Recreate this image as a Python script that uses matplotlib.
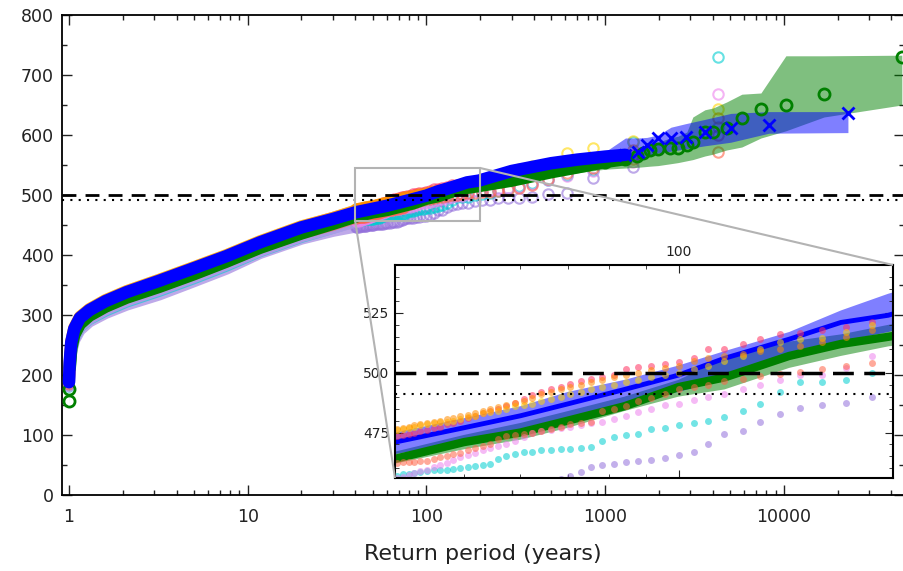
import numpy as np
import matplotlib
matplotlib.use('Agg')
import matplotlib.pyplot as plt
from matplotlib.ticker import MultipleLocator, NullFormatter, FixedLocator
from mpl_toolkits.axes_grid1.inset_locator import mark_inset

# ---------------- data ----------------
# large-sample estimate (blue crosses) with its uncertainty band
blue_T = [1.0, 1.01, 1.03, 1.07, 1.15, 1.3, 1.6, 2.1, 3.2, 5, 7.6, 11.7, 20, 30, 40,
          50, 60, 70, 84, 100, 116, 143, 169, 197, 300, 500, 700, 1000, 1300, 1528,
          1716, 1977, 2339, 2836, 3620, 5063, 8260, 22870]
blue_v = [188, 222, 255, 277, 295, 308, 323, 338, 357, 378, 398, 421, 446, 460, 471,
          477, 482, 487, 493, 499, 506, 514, 521, 524, 540, 553, 559, 564, 567, 571,
          583, 595, 595, 596, 605, 612, 617, 637]
blue_lo = [182, 216, 249, 271, 289, 302, 317, 332, 351, 372, 392, 415, 440, 454, 466,
           471, 476, 481, 487, 492, 497, 507, 513, 517, 532, 545, 551, 556, 558, 558,
           563, 570, 573, 577, 582, 588, 603, 604]
blue_hi = [195, 229, 262, 284, 302, 315, 330, 345, 364, 385, 405, 428, 453, 466, 475,
           481, 486, 492, 497, 503, 509, 517, 526, 533, 548, 561, 567, 572, 595, 595,
           596, 600, 613, 619, 626, 636, 639, 639]

# long simulation (green circles) with its band
green_T = [1.0, 1.003, 1.01, 1.03, 1.07, 1.15, 1.3, 1.6, 2.1, 3.2, 5, 7.6, 11.7, 20, 30,
           40, 50, 60, 70, 84, 100, 116, 143, 169, 197, 300, 500, 700, 1000, 1300,
           1500, 1640, 1783, 1977, 2313, 2562, 2870, 3100, 3620, 4020, 4790, 5830, 7450,
           10280, 16800, 45800]
green_v = [157, 176, 212, 245, 267, 285, 299, 314, 329, 347, 368, 389, 412, 436, 452,
           464, 471, 475, 480, 486, 494, 498, 507, 512, 515, 524, 538, 546, 555, 560,
           565, 570, 575, 577, 578, 578, 583, 588, 605, 605, 612, 628, 643,
           650, 668, 730]
green_lo = [152, 171, 207, 240, 262, 280, 294, 309, 324, 342, 363, 384, 407, 431, 447,
            462, 468, 472, 477, 484, 490, 493, 502, 507, 511, 518, 530, 537, 543, 545,
            546, 547, 548, 549, 552, 554, 557, 559, 565, 568, 575, 580, 595,
            607, 630, 650]
green_hi = [162, 181, 217, 250, 272, 290, 304, 319, 334, 352, 373, 394, 417, 441, 457,
            467, 474, 479, 484, 490, 497, 506, 513, 516, 520, 530, 545, 553, 565, 570,
            575, 582, 585, 588, 595, 598, 605, 630, 642, 645, 655, 668, 670,
            732, 732, 733]

# ensemble members: dense lower part (T_low) and the ranked upper part (T_rank)
T_low = [1.0, 1.01, 1.03, 1.07, 1.15, 1.3, 1.6, 2.1, 3.2, 5, 7.6, 11.7, 20, 30, 40]
T_rank = [4300, 1433, 860, 614, 478, 391, 331, 287, 253, 226, 205, 187, 172, 159, 148,
          139, 130, 123, 116, 110, 105, 100, 95.6, 91.5, 87.8, 84.3, 81.1, 78.2, 75.4,
          72.9, 70.5, 68.3, 66.2, 64.2, 62.3, 60.6, 58.9, 57.3, 55.8, 54.4, 53.1, 51.8,
          50.6, 49.4, 48.3, 47.3, 46.2, 45.3, 44.3, 43.4, 42.6, 41.8, 41.0, 40.2]

purple_low = [183, 210, 238, 258, 275, 289, 303, 317, 334, 356, 377, 403, 427, 440, 447]
purple_v = [613, 547, 528, 503, 502, 497, 495, 495, 495, 492, 491.5, 490, 487.5, 486.3,
            485.3, 482.8, 479.3, 475.6, 474.5, 470, 467, 465.5, 464.5, 463.5, 463, 462.5,
            462, 461.5, 460.5, 458.5, 457, 455.5, 455, 454.5, 454, 453.5, 453, 452.5, 452,
            451.5, 451, 451, 450.5, 450, 450, 449.5, 449, 449, 448.5, 448, 448, 447.5,
            447, 447]

cyan_low = [180, 208, 240, 262, 280, 293, 307, 322, 340, 361, 382, 406, 430, 445, 456]
cyan_v = [730, 588, 542, 533, 525, 520, 515, 510, 506, 504, 502.2, 500, 497, 496, 496,
          492, 487, 484, 481.5, 480, 479, 478, 477, 476.5, 474.5, 474, 473, 471.5, 469,
          468.6, 468.2, 468, 467.7, 467.5, 467, 466.8, 466, 465.4, 464, 462, 461.5,
          461.2, 460.7, 460.1, 459.8, 459.5, 459.4, 459.4, 458.8, 458.5, 458, 457.8,
          457.5, 457]

violet_low = [181, 209, 241, 263, 281, 294, 309, 324, 342, 363, 384, 407, 431, 445, 455.5]
violet_v = [668, 555, 540, 532, 525, 518, 514, 512, 510, 508, 507, 507, 502, 499, 499,
            497, 495, 493, 491, 490, 488.5, 487, 486.3, 485, 483.5, 482, 480.5, 479.5,
            478.8, 478, 477.2, 476.8, 476.2, 475.8, 474.6, 473, 471.5, 470.3, 469.2,
            468.4, 467.5, 466.3, 465.5, 464.7, 463.5, 462.2, 461.5, 460.5, 459.4, 458.8,
            458, 457.3, 456.6, 456]

salmon_low = [184, 214, 246, 268, 286, 299, 314, 329, 347, 368, 389, 412, 436, 450, 462]
salmon_v = [572, 560, 545, 537, 527, 517, 511, 508, 506, 505, 504.5, 504, 503, 501.5,
            500.5, 499.4, 498.5, 497.5, 496.5, 495, 494, 493.2, 491, 489.5, 488, 486,
            484.9, 484.2, 479.3, 478.9, 478.6, 477.5, 476.5, 475.8, 475, 474.4, 474,
            473.7, 472.4, 470.3, 469.5, 468.6, 467.8, 466.5, 466.1, 465.4, 464.7, 464,
            463.3, 463, 462.8, 462.6, 462.6, 462.4]

red_low = [189, 223, 256, 278, 296, 309, 324, 339, 358, 379, 399, 422, 447, 462, 473]
red_v = [600, 566, 556, 550, 545, 540, 535, 531, 528, 525, 523, 521, 519, 518, 516.5,
         516, 514, 512, 510, 509.9, 506, 504.3, 503.6, 502.9, 502.2, 501.5, 499, 498,
         497.5, 496.5, 495.3, 494, 493, 492, 490.5, 489, 487.5, 486, 485, 484, 483, 482,
         481, 480, 479, 478.5, 477.5, 477, 476, 475.5, 475, 474.5, 474, 473.5]

gold_low = [190, 224, 257, 279, 297, 310, 325, 340, 359, 380, 400, 423, 448, 462, 474]
gold_v = [643, 590, 578, 570, 552, 548, 543, 539, 533, 528, 524, 520, 517, 514.5, 514,
          513, 510, 507, 505, 503, 501.5, 500, 499, 498, 497, 496, 495, 494, 493, 492,
          491, 490, 489, 488, 487, 486.5, 486, 485, 484, 483.5, 483, 482, 481.5, 480.7,
          480, 479.5, 479.3, 479, 478.6, 478, 477.5, 477, 476.5, 476]

orange_low = [190, 224, 257, 279, 297, 310, 325, 340, 359, 380, 400, 423, 448, 462, 474]
orange_v = [628, 575, 562, 556, 549, 545, 541, 537, 532, 527, 522, 518, 515, 513, 511,
            510, 509, 508, 507, 506, 505, 503, 502, 501, 500, 499, 498, 497, 496, 495,
            494, 493, 492, 491, 489.5, 488.3, 487.5, 486.5, 485.5, 485, 484, 483, 482.5,
            482, 481, 480.5, 480, 479.5, 479, 478.5, 478, 477.5, 477, 476.5]

members = [(purple_low, purple_v, 'mediumpurple'),
           (cyan_low, cyan_v, 'darkturquoise'),
           (violet_low, violet_v, 'violet'),
           (salmon_low, salmon_v, 'tomato'),
           (red_low, red_v, '#ff3060'),
           (gold_low, gold_v, 'gold'),
           (orange_low, orange_v, 'darkorange')]

threshold = 500
threshold2 = 491
x_ticks = [1, 10, 100, 1000, 10000]
x_ticklabels = ['1', '10', '100', '1000', '10000']
zoom_x = (40, 200)
zoom_y = (456, 545)

# ---------------- figure ----------------
plt.rcParams['font.family'] = 'DejaVu Sans'
fig = plt.figure(figsize=(9.04, 5.71), dpi=100)
ax = fig.add_axes([62 / 904, 1 - 495 / 571, (903.5 - 62) / 904, 480 / 571])
ax.set_xscale('log')

bT, bv = np.array(blue_T), np.array(blue_v)
gT, gv = np.array(green_T), np.array(green_v)

# members: dense part as a solid band, upper tail as open circles
for low, vals, col in members:
    ax.plot(T_low, low, '-', color=col, lw=8.5, alpha=0.6, solid_capstyle='round', zorder=1)
    ax.plot(T_rank, vals, 'o', mfc='none', mec=col, mew=1.5, ms=7.5, alpha=0.6, zorder=1)

ax.fill_between(green_T, green_lo, green_hi, color='g', alpha=0.5, lw=0, zorder=2)
ax.fill_between(blue_T, blue_lo, blue_hi, color='b', alpha=0.5, lw=0, zorder=2)

# dense part drawn as a thick band, sparse tail as single markers
gd = (gT <= 1300) & (gT > 1.003)
gm = (gT >= 1000) | (gT <= 1.003)
ax.plot(gT[gd], gv[gd], '-', color='g', lw=9, solid_capstyle='round', zorder=3)
ax.plot(gT[gm], gv[gm], 'o', mfc='none', mec='g', mew=2, ms=8, zorder=3)
bd = bT <= 1300
bm = bT >= 1300
ax.plot(bT[bd], bv[bd], '-', color='b', lw=9, solid_capstyle='round', zorder=4)
ax.plot(bT[bm], bv[bm], 'x', color='b', mew=2, ms=8, zorder=4)

ax.axhline(threshold, color='k', ls=(0, (5, 3.3)), lw=2, zorder=6)
ax.axhline(threshold2, color='k', ls=(0, (1, 3)), lw=1.5, zorder=6)

ax.set_xlim(0.914, 46800)
ax.set_ylim(0, 800)
ax.set_xticks(x_ticks)
ax.set_xticklabels(x_ticklabels)
ax.xaxis.set_minor_formatter(NullFormatter())
ax.yaxis.set_major_locator(MultipleLocator(100))
ax.yaxis.set_minor_locator(MultipleLocator(50))
ax.tick_params(which='both', direction='in', top=True, right=True, width=1,
               labelsize=12.5, pad=6, colors='#222222')
ax.tick_params(axis='x', pad=9)
ax.tick_params(which='major', length=7)
ax.tick_params(which='minor', length=3.5)
for s in ax.spines.values():
    s.set_linewidth(1.3)
ax.set_xlabel('Return period (years)', fontsize=16, color='#222222', labelpad=13)

# ---------------- zoomed inset ----------------
axins = fig.add_axes([395 / 904, 1 - 478 / 571, 498 / 904, 213 / 571])
axins.set_xscale('log')
axins.fill_between(green_T, green_lo, green_hi, color='g', alpha=0.5, lw=0)
axins.fill_between(blue_T, blue_lo, blue_hi, color='b', alpha=0.5, lw=0)
axins.plot(green_T, green_v, '-', color='g', lw=6)
axins.plot(blue_T, blue_v, '-', color='b', lw=3.5)
for low, vals, col in members:
    axins.plot(T_rank, vals, 'o', color=col, mec='none', ms=5, alpha=0.55)
axins.axhline(threshold, color='k', ls=(0, (6, 3)), lw=2.5)
axins.axhline(threshold2, color='k', ls=(0, (1, 3)), lw=1.5)
axins.set_xlim(*zoom_x)
axins.set_ylim(*zoom_y)
axins.xaxis.set_major_locator(FixedLocator([100]))
axins.set_xticklabels(['100'])
axins.xaxis.set_minor_formatter(NullFormatter())
axins.yaxis.set_major_locator(FixedLocator([475, 500, 525]))
axins.yaxis.set_minor_locator(MultipleLocator(5))
axins.tick_params(which='both', direction='in', top=True, right=True, bottom=True,
                  labeltop=True, labelbottom=False, labelsize=10, pad=4, colors='#222222')
axins.tick_params(which='major', length=6)
axins.tick_params(which='minor', length=3)
for s in axins.spines.values():
    s.set_linewidth(1.5)

mark_inset(ax, axins, loc1=1, loc2=3, fc='none', ec='0.7', lw=1.5, zorder=7)

fig.savefig('out.png', dpi=100)
